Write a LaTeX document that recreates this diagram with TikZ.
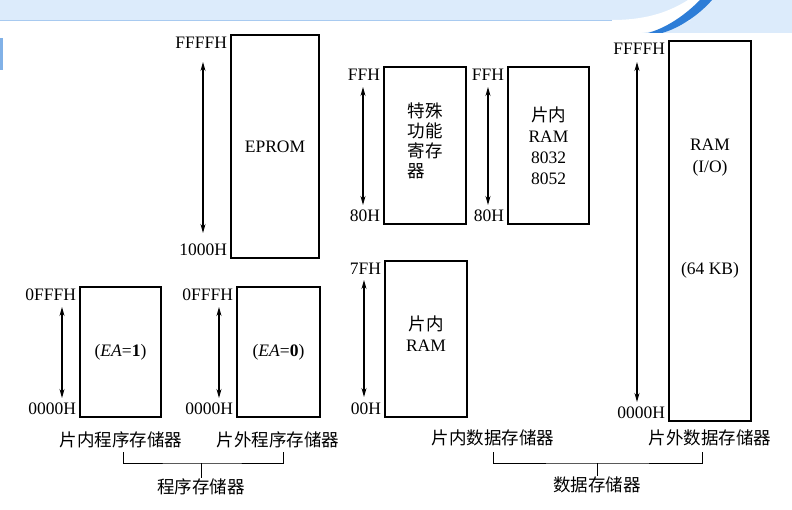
\documentclass[tikz,border=0pt]{standalone}
\usepackage{fontspec}
\setmainfont{Liberation Serif}
\newfontfamily\cjk{Noto Sans CJK SC}
\usetikzlibrary{arrows.meta}
\usetikzlibrary{calc}
\usetikzlibrary{positioning}
\definecolor{bandblue}{RGB}{220,235,251}
\definecolor{swooshblue}{RGB}{45,125,215}
\tikzstyle{mem} = [
    rectangle,
    draw=black,
    line width=1.7pt,
    inner sep=0pt,
    align=center,
    font=\fontsize{17.5}{21}\selectfont
]
\tikzstyle{addr} = [
    inner sep=1pt,
    font=\fontsize{17.5}{22}\selectfont
]
\tikzstyle{addrspan} = [
    draw,
    line width=1.1pt,
    {Stealth[length=9pt,width=5pt]}-{Stealth[length=9pt,width=5pt]}
]
\tikzstyle{memname} = [inner sep=1pt, font=\cjk\fontsize{17.5}{20}\selectfont]
\tikzstyle{bracket} = [draw, line width=0.9pt]
\newcommand{\hiaddr}[2]{node[addr, anchor=north east, xshift=-2pt, yshift=-2pt] at (#1.north west) {#2}}
\newcommand{\loaddr}[2]{node[addr, anchor=south east, xshift=-2pt, yshift=2pt] at (#1.south west) {#2}}

\begin{document}
\begin{tikzpicture}[x=1pt, y=-1pt]
\useasboundingbox (0,0) rectangle (792,510);

% slide background
\fill[bandblue] (0,0) rectangle (792,20);
\draw[bandblue!70!swooshblue, line width=0.8pt] (0,20) -- (620,20);
\fill[bandblue] (640,33) .. controls (690,28) and (712,8) .. (722,0) -- (792,0) -- (792,33) -- cycle;
\fill[white] (612,20) .. controls (650,20) and (672,10) .. (688,0) -- (700,0) .. controls (684,18) and (662,30) .. (640,33) -- (612,33) -- cycle;
\fill[swooshblue] (648,33) .. controls (672,26) and (690,10) .. (700,0) -- (712,0) .. controls (700,14) and (680,28) .. (662,33) -- cycle;
\fill[swooshblue!60] (0,38) rectangle (3,70);

% program memory
\node[mem, minimum width=88pt, minimum height=223pt] (eprom) at (275,146.5) {EPROM};
\node[mem, minimum width=81pt, minimum height=130pt] (ea1) at (120.5,352) {(\textit{EA}=\textbf{1})};
\node[mem, minimum width=83pt, minimum height=130pt] (ea0) at (278.5,352) {(\textit{EA}=\textbf{0})};

% data memory
\node[mem, minimum width=82pt, minimum height=157pt, align=left, font=\fontsize{17.5}{20}\selectfont] (sfr) at (425,145.5)
{\cjk 特殊\\\cjk 功能\\\cjk 寄存\\\cjk 器\\[-9pt]};
\node[mem, minimum width=81pt, minimum height=157pt] (hram) at (548.5,145.5)
{{\cjk 片内}\\RAM\\8032\\8052};
\node[mem, minimum width=82pt, minimum height=156pt] (lram) at (426,339)
{{\cjk 片内}\\RAM\\[-11pt]};
\node[mem, minimum width=82pt, minimum height=380pt] (xram) at (710,231) {};
\node[addr, align=center] (xramtxt) at (710,158) {RAM\\(I/O)};
\node[addr] (xramsize) at (710,270) {(64 KB)};

% addresses
\path \hiaddr{eprom}{FFFFH} \loaddr{eprom}{1000H};
\path \hiaddr{ea1}{0FFFH} \loaddr{ea1}{0000H};
\path \hiaddr{ea0}{0FFFH} \loaddr{ea0}{0000H};
\path \hiaddr{sfr}{FFH} \loaddr{sfr}{80H};
\path \hiaddr{hram}{FFH} \loaddr{hram}{80H};
\path \hiaddr{lram}{7FH} \loaddr{lram}{00H};
\path \hiaddr{xram}{FFFFH} \loaddr{xram}{0000H};

\coordinate (eprom_t) at (203,62);  \coordinate (eprom_b) at (203,233);
\coordinate (ea1_t) at (62,307);    \coordinate (ea1_b) at (62,398);
\coordinate (ea0_t) at (219,307);   \coordinate (ea0_b) at (219,398);
\coordinate (sfr_t) at (363,87);    \coordinate (sfr_b) at (363,205);
\coordinate (hram_t) at (488,87);   \coordinate (hram_b) at (488,205);
\coordinate (lram_t) at (364,280);  \coordinate (lram_b) at (364,397);
\coordinate (xram_t) at (637,62);   \coordinate (xram_b) at (637,402);

\foreach \m in {eprom,ea1,ea0,sfr,hram,lram,xram}
    \draw[addrspan] (\m_t) -- (\m_b);

% group names
\node[memname] (pin)  at (121,440) {片内程序存储器};
\node[memname] (pout) at (278,440) {片外程序存储器};
\node[memname] (prog) at (201,487) {程序存储器};
\node[memname] (din)  at (493,438) {片内数据存储器};
\node[memname] (dout) at (710,438) {片外数据存储器};
\node[memname] (data) at (597,485) {数据存储器};

\coordinate (progmid) at (201,463);
\coordinate (datamid) at (597,463);
\draw[bracket] ([xshift=2pt,yshift=-3pt]pin.south) |- (progmid) -| ([xshift=5pt,yshift=-3pt]pout.south);
\draw[bracket] (progmid) -- (prog.north);
\draw[bracket] ([yshift=-5pt]din.south) |- (datamid) -| ([xshift=-8pt,yshift=-5pt]dout.south);
\draw[bracket] (datamid) -- (data.north);
\end{tikzpicture}
\end{document}
